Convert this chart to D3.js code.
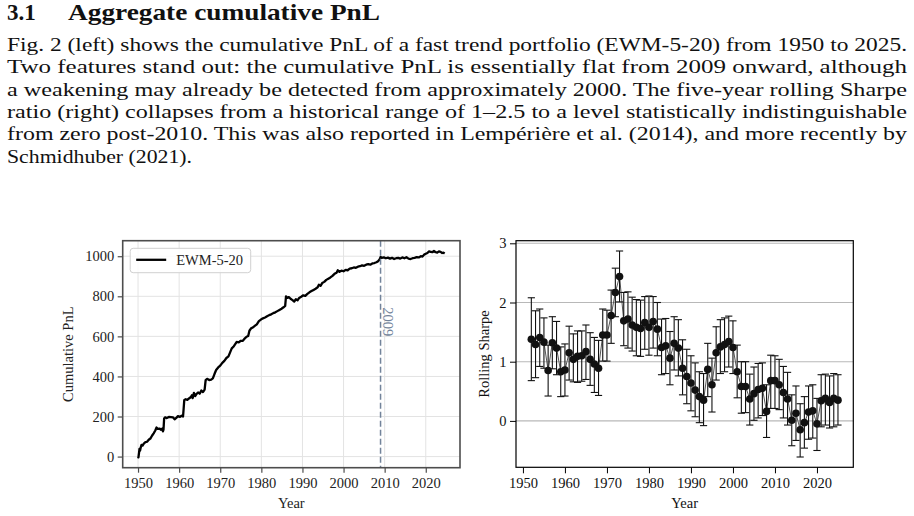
<!DOCTYPE html>
<html>
<head>
<meta charset="utf-8">
<script src="https://cdn.jsdelivr.net/npm/d3@7"></script>
<style>
  body { margin: 0; background: #fff; }
  svg { display: block; font-family: "Liberation Serif", "DejaVu Serif", serif; }
</style>
</head>
<body>
<div id="page"></div>
<script>
// text of the page
const headingNum = "3.1";
const headingText = "Aggregate cumulative PnL";
const bodyLines = [
  "Fig. 2 (left) shows the cumulative PnL of a fast trend portfolio (EWM-5-20) from 1950 to 2025.",
  "Two features stand out: the cumulative PnL is essentially flat from 2009 onward, although",
  "a weakening may already be detected from approximately 2000. The five-year rolling Sharpe",
  "ratio (right) collapses from a historical range of 1\u20132.5 to a level statistically indistinguishable",
  "from zero post-2010. This was also reported in Lemp\u00e9ri\u00e8re et al. (2014), and more recently by",
  "Schmidhuber (2021)."
];

// left panel: cumulative PnL
const pnlYears = [
  1950.00, 1950.10, 1950.25, 1950.35, 1950.50, 1950.65, 1950.85, 1951.10, 1951.40, 1951.80,
  1952.20, 1952.60, 1953.00, 1953.40, 1953.80, 1954.20, 1954.50, 1954.80, 1955.20, 1955.60,
  1955.90, 1956.05, 1956.20, 1956.35, 1956.60, 1957.00, 1957.50, 1958.00, 1958.50, 1958.90,
  1959.30, 1959.70, 1960.20, 1960.60, 1960.95, 1961.10, 1961.25, 1961.60, 1962.00, 1962.40,
  1962.80, 1963.10, 1963.30, 1963.60, 1963.90, 1964.20, 1964.60, 1965.00, 1965.40, 1965.80,
  1966.20, 1966.45, 1966.80, 1967.30, 1967.80, 1968.20, 1968.60, 1969.00, 1969.50, 1970.00,
  1970.50, 1971.00, 1971.50, 1972.00, 1972.40, 1972.80, 1973.20, 1973.60, 1974.00, 1974.50,
  1975.00, 1975.50, 1976.00, 1976.40, 1976.80, 1977.10, 1977.50, 1977.90, 1978.40, 1978.90,
  1979.40, 1979.90, 1980.40, 1980.90, 1981.40, 1981.90, 1982.40, 1982.90, 1983.40, 1983.90,
  1984.40, 1984.90, 1985.40, 1985.80, 1986.00, 1986.30, 1986.70, 1987.10, 1987.50, 1988.00,
  1988.40, 1988.80, 1989.20, 1989.70, 1990.20, 1990.70, 1991.20, 1991.70, 1992.20, 1992.70,
  1993.20, 1993.70, 1994.00, 1994.40, 1994.80, 1995.30, 1995.80, 1996.30, 1996.80, 1997.30,
  1997.80, 1998.30, 1998.60, 1999.00, 1999.50, 2000.00, 2000.50, 2001.00, 2001.50, 2002.00,
  2002.50, 2003.00, 2003.50, 2004.00, 2004.50, 2005.00, 2005.50, 2006.00, 2006.50, 2007.00,
  2007.50, 2008.00, 2008.40, 2008.80, 2009.00, 2009.30, 2009.80, 2010.30, 2010.80, 2011.30,
  2011.80, 2012.30, 2012.80, 2013.30, 2013.80, 2014.30, 2014.80, 2015.30, 2015.80, 2016.30,
  2016.80, 2017.30, 2017.80, 2018.30, 2018.80, 2019.20, 2019.60, 2020.00, 2020.40, 2020.80,
  2021.20, 2021.60, 2022.00, 2022.40, 2022.80, 2023.20, 2023.60, 2024.00, 2024.30, 2024.60
];
const pnlValues = [
  0, -4, 20, 38, 30, 45, 58, 55, 65, 72,
  74, 84, 90, 104, 116, 130, 145, 138, 140, 134,
  140, 126, 135, 190, 196, 192, 198, 197, 196, 186,
  193, 202, 198, 204, 200, 240, 282, 286, 283, 290,
  296, 306, 292, 318, 302, 312, 320, 314, 330, 322,
  334, 382, 388, 382, 384, 390, 412, 432, 445, 454,
  468, 478, 492, 500, 520, 540, 548, 560, 572, 570,
  578, 578, 590, 598, 602, 628, 640, 644, 652, 660,
  676, 684, 690, 694, 700, 706, 710, 716, 720, 726,
  732, 738, 745, 752, 800, 792, 796, 788, 782, 774,
  785, 780, 792, 798, 805, 802, 812, 820, 826, 832,
  838, 845, 858, 852, 866, 872, 882, 888, 894, 902,
  912, 918, 930, 922, 928, 925, 932, 930, 938, 940,
  944, 942, 948, 950, 954, 952, 958, 960, 958, 964,
  966, 970, 975, 985, 996, 992, 994, 990, 993, 988,
  992, 986, 990, 992, 988, 994, 990, 995, 988, 986,
  990, 992, 996, 994, 1000, 998, 1008, 1012, 1016, 1024,
  1022, 1020, 1026, 1020, 1018, 1024, 1022, 1016, 1018, 1014
];
const pnlTicks = [0, 200, 400, 600, 800, 1000];
const markYear = 2009;

// right panel: five-year rolling Sharpe with error bars
const sharpeYears = [
  1952, 1953, 1954, 1955, 1956, 1957, 1958, 1959, 1960, 1961,
  1962, 1963, 1964, 1965, 1966, 1967, 1968, 1969, 1970, 1971,
  1972, 1973, 1974, 1975, 1976, 1977, 1978, 1979, 1980, 1981,
  1982, 1983, 1984, 1985, 1986, 1987, 1988, 1989, 1990, 1991,
  1992, 1993, 1994, 1995, 1996, 1997, 1998, 1999, 2000, 2001,
  2002, 2003, 2004, 2005, 2006, 2007, 2008, 2009, 2010, 2011,
  2012, 2013, 2014, 2015, 2016, 2017, 2018, 2019, 2020, 2021,
  2022, 2023, 2024, 2025
];
const sharpeValues = [
  1.38, 1.29, 1.41, 1.33, 0.85, 1.32, 1.23, 0.83, 0.86, 1.15,
  1.04, 1.09, 1.10, 1.17, 1.04, 0.96, 0.89, 1.45, 1.45, 1.78,
  2.17, 2.44, 1.69, 1.72, 1.62, 1.58, 1.56, 1.66, 1.58, 1.68,
  1.55, 1.24, 1.27, 1.06, 1.31, 1.23, 0.89, 0.75, 0.64, 0.52,
  0.41, 0.35, 0.87, 0.61, 1.15, 1.25, 1.29, 1.34, 1.24, 0.83,
  0.58, 0.58, 0.37, 0.46, 0.53, 0.55, 0.16, 0.68, 0.68, 0.61,
  0.48, 0.37, 0.01, 0.13, -0.15, -0.03, 0.15, 0.17, -0.05, 0.34,
  0.38, 0.31, 0.38, 0.35
];
const sharpeLower = [
  0.68, 0.73, 0.92, 0.89, 0.42, 0.88, 0.78, 0.41, 0.42, 0.69,
  0.66, 0.65, 0.67, 0.70, 0.60, 0.48, 0.43, 1.01, 1.01, 1.31,
  1.76, 2.01, 1.27, 1.23, 1.18, 1.10, 1.09, 1.21, 1.11, 1.23,
  1.10, 0.78, 0.80, 0.61, 0.86, 0.76, 0.44, 0.29, 0.17, 0.07,
  -0.03, -0.08, 0.41, 0.15, 0.69, 0.80, 0.83, 0.91, 0.80, 0.39,
  0.13, 0.14, -0.07, 0.01, 0.05, 0.09, -0.28, 0.21, 0.21, 0.19,
  0.05, -0.07, -0.42, -0.33, -0.61, -0.46, -0.31, -0.29, -0.50, -0.10,
  -0.07, -0.12, -0.10, -0.07
];
const sharpeUpper = [
  2.08, 1.86, 1.89, 1.74, 1.28, 1.76, 1.68, 1.25, 1.30, 1.60,
  1.47, 1.52, 1.52, 1.62, 1.49, 1.41, 1.36, 1.89, 1.87, 2.21,
  2.58, 2.87, 2.17, 2.18, 2.09, 2.05, 2.04, 2.10, 2.11, 2.10,
  2.00, 1.72, 1.73, 1.51, 1.76, 1.71, 1.37, 1.21, 1.10, 0.98,
  0.83, 0.80, 1.31, 1.06, 1.59, 1.71, 1.74, 1.77, 1.69, 1.28,
  1.00, 1.00, 0.79, 0.91, 0.97, 0.98, 0.61, 1.11, 1.10, 1.04,
  0.92, 0.82, 0.44, 0.59, 0.29, 0.41, 0.59, 0.61, 0.38, 0.78,
  0.79, 0.76, 0.80, 0.78
];
const sharpeTicks = [0, 1, 2, 3];
const yearTicks = [1950, 1960, 1970, 1980, 1990, 2000, 2010, 2020];

// ---------------------------------------------------------------------------
const W = 914, H = 516;
const tickFont = 14.5;
const panelL = { x0: 122.7, x1: 460, y0: 240.7, y1: 467.7 };
const panelR = { x0: 516, x1: 853.3, y0: 240.7, y1: 467.3 };
const fmtInt = d3.format("d");

// matplotlib style 5% autoscale margins
function pad([lo, hi]) {
  const m = (hi - lo) * 0.05;
  return [lo - m, hi + m];
}

const svg = d3.select("#page").append("svg")
  .attr("width", W).attr("height", H)
  .attr("viewBox", `0 0 ${W} ${H}`);

svg.append("rect").attr("width", W).attr("height", H).attr("fill", "#fff");

// heading + paragraph
svg.append("text").attr("x", 7).attr("y", 20)
  .attr("font-size", 23).attr("font-weight", "bold").attr("fill", "#111")
  .text(headingNum);
svg.append("text").attr("x", 68).attr("y", 20)
  .attr("font-size", 23).attr("font-weight", "bold").attr("fill", "#111")
  .attr("textLength", 312).attr("lengthAdjust", "spacingAndGlyphs")
  .text(headingText);

const lineGap = 22.3, firstBase = 51;
svg.append("g").selectAll("text")
  .data(bodyLines)
  .join("text")
  .attr("x", 7)
  .attr("y", (d, i) => firstBase + i * lineGap)
  .attr("font-size", 18.8)
  .attr("fill", "#111")
  .attr("textLength", (d, i) => i < bodyLines.length - 1 ? 900 : 185)
  .attr("lengthAdjust", "spacingAndGlyphs")
  .text(d => d);

// ---------------------------- left: cumulative PnL
const xL = d3.scaleLinear().domain(pad(d3.extent(pnlYears))).range([panelL.x0, panelL.x1]);
const yL = d3.scaleLinear().domain(pad(d3.extent(pnlValues))).range([panelL.y1, panelL.y0]);

const gL = svg.append("g");

gL.append("g").selectAll("line").data(yearTicks).join("line")
  .attr("x1", d => xL(d)).attr("x2", d => xL(d))
  .attr("y1", panelL.y0).attr("y2", panelL.y1)
  .attr("stroke", "#e3e3e3").attr("stroke-width", 1);
gL.append("g").selectAll("line").data(pnlTicks).join("line")
  .attr("x1", panelL.x0).attr("x2", panelL.x1)
  .attr("y1", d => yL(d)).attr("y2", d => yL(d))
  .attr("stroke", "#e3e3e3").attr("stroke-width", 1);

const pnlData = pnlYears.map((y, i) => [y, pnlValues[i]]);
gL.append("path")
  .datum(pnlData)
  .attr("fill", "none")
  .attr("stroke", "#000")
  .attr("stroke-width", 2.3)
  .attr("stroke-linejoin", "round")
  .attr("d", d3.line().x(d => xL(d[0])).y(d => yL(d[1])));

// 2009 marker
const markColor = "#72839a";
gL.append("line")
  .attr("x1", xL(markYear)).attr("x2", xL(markYear))
  .attr("y1", panelL.y0).attr("y2", panelL.y1)
  .attr("stroke", markColor).attr("stroke-width", 1.5)
  .attr("stroke-dasharray", "6,3");
gL.append("text")
  .attr("transform", `translate(${xL(markYear) + 2.5},${yL(745)}) rotate(90)`)
  .attr("font-size", tickFont).attr("fill", markColor)
  .text(String(markYear));

// axes
const axLx = gL.append("g").attr("transform", `translate(0,${panelL.y1})`)
  .call(d3.axisBottom(xL).tickValues(yearTicks).tickFormat(fmtInt)
    .tickSize(5).tickPadding(5).tickSizeOuter(0));
const axLy = gL.append("g").attr("transform", `translate(${panelL.x0},0)`)
  .call(d3.axisLeft(yL).tickValues(pnlTicks).tickFormat(fmtInt)
    .tickSize(5).tickPadding(3.5).tickSizeOuter(0));
[axLx, axLy].forEach(a => {
  a.select(".domain").remove();
  a.selectAll(".tick line").attr("stroke", "#4d4d4d").attr("stroke-width", 1.2);
  a.selectAll(".tick text").attr("font-size", tickFont).attr("fill", "#222")
    .attr("font-family", "Liberation Serif, serif");
});

gL.append("rect")
  .attr("x", panelL.x0).attr("y", panelL.y0)
  .attr("width", panelL.x1 - panelL.x0).attr("height", panelL.y1 - panelL.y0)
  .attr("fill", "none").attr("stroke", "#4d4d4d").attr("stroke-width", 1.6);

// legend
const lg = gL.append("g").attr("transform", `translate(${panelL.x0 + 7.5},${panelL.y0 + 7.6})`);
lg.append("rect").attr("width", 120.5).attr("height", 24.4).attr("rx", 3)
  .attr("fill", "#fff").attr("fill-opacity", 0.85)
  .attr("stroke", "#d0d0d0").attr("stroke-width", 1);
lg.append("line").attr("x1", 6).attr("x2", 36).attr("y1", 11.5).attr("y2", 11.5)
  .attr("stroke", "#000").attr("stroke-width", 2.3);
lg.append("text").attr("x", 46).attr("y", 16.5)
  .attr("font-size", tickFont).attr("fill", "#222").text("EWM-5-20");

gL.append("text")
  .attr("transform", `translate(73,${(panelL.y0 + panelL.y1) / 2}) rotate(-90)`)
  .attr("text-anchor", "middle").attr("font-size", tickFont).attr("fill", "#222")
  .text("Cumulative PnL");
gL.append("text")
  .attr("x", (panelL.x0 + panelL.x1) / 2).attr("y", 507.5)
  .attr("text-anchor", "middle").attr("font-size", tickFont).attr("fill", "#222")
  .text("Year");

// ---------------------------- right: rolling Sharpe
const xR = d3.scaleLinear().domain(pad(d3.extent(sharpeYears))).range([panelR.x0, panelR.x1]);
const yR = d3.scaleLinear()
  .domain(pad([d3.min(sharpeLower), d3.max(sharpeUpper)]))
  .range([panelR.y1, panelR.y0]);

const gR = svg.append("g");

gR.append("g").selectAll("line").data(sharpeTicks).join("line")
  .attr("x1", panelR.x0).attr("x2", panelR.x1)
  .attr("y1", d => yR(d)).attr("y2", d => yR(d))
  .attr("stroke", "#b8b8b8").attr("stroke-width", 1.1);

const sharpeData = sharpeYears.map((y, i) => ({
  year: y, v: sharpeValues[i], lo: sharpeLower[i], hi: sharpeUpper[i]
}));

gR.append("path")
  .datum(sharpeData)
  .attr("fill", "none").attr("stroke", "#555").attr("stroke-width", 1)
  .attr("d", d3.line().x(d => xR(d.year)).y(d => yR(d.v)));

const cap = 3.6;
const eb = gR.append("g").attr("stroke", "#111").attr("stroke-width", 1.1);
eb.selectAll("line.v").data(sharpeData).join("line").attr("class", "v")
  .attr("x1", d => xR(d.year)).attr("x2", d => xR(d.year))
  .attr("y1", d => yR(d.lo)).attr("y2", d => yR(d.hi));
eb.selectAll("line.t").data(sharpeData).join("line").attr("class", "t")
  .attr("x1", d => xR(d.year) - cap).attr("x2", d => xR(d.year) + cap)
  .attr("y1", d => yR(d.hi)).attr("y2", d => yR(d.hi));
eb.selectAll("line.b").data(sharpeData).join("line").attr("class", "b")
  .attr("x1", d => xR(d.year) - cap).attr("x2", d => xR(d.year) + cap)
  .attr("y1", d => yR(d.lo)).attr("y2", d => yR(d.lo));

gR.append("g").selectAll("circle").data(sharpeData).join("circle")
  .attr("cx", d => xR(d.year)).attr("cy", d => yR(d.v))
  .attr("r", 3.8).attr("fill", "#111");

const axRx = gR.append("g").attr("transform", `translate(0,${panelR.y1})`)
  .call(d3.axisBottom(xR).tickValues(yearTicks).tickFormat(fmtInt)
    .tickSize(6).tickPadding(4.5).tickSizeOuter(0));
const axRy = gR.append("g").attr("transform", `translate(${panelR.x0},0)`)
  .call(d3.axisLeft(yR).tickValues(sharpeTicks).tickFormat(fmtInt)
    .tickSize(6).tickPadding(3.5).tickSizeOuter(0));
[axRx, axRy].forEach(a => {
  a.select(".domain").remove();
  a.selectAll(".tick line").attr("stroke", "#000").attr("stroke-width", 1);
  a.selectAll(".tick text").attr("font-size", tickFont).attr("fill", "#111")
    .attr("font-family", "Liberation Serif, serif");
});

gR.append("rect")
  .attr("x", panelR.x0).attr("y", panelR.y0)
  .attr("width", panelR.x1 - panelR.x0).attr("height", panelR.y1 - panelR.y0)
  .attr("fill", "none").attr("stroke", "#000").attr("stroke-width", 1.2);

gR.append("text")
  .attr("transform", `translate(488.5,${(panelR.y0 + panelR.y1) / 2}) rotate(-90)`)
  .attr("text-anchor", "middle").attr("font-size", tickFont).attr("fill", "#111")
  .text("Rolling Sharpe");
gR.append("text")
  .attr("x", (panelR.x0 + panelR.x1) / 2).attr("y", 507.5)
  .attr("text-anchor", "middle").attr("font-size", tickFont).attr("fill", "#111")
  .text("Year");
</script>
</body>
</html>
